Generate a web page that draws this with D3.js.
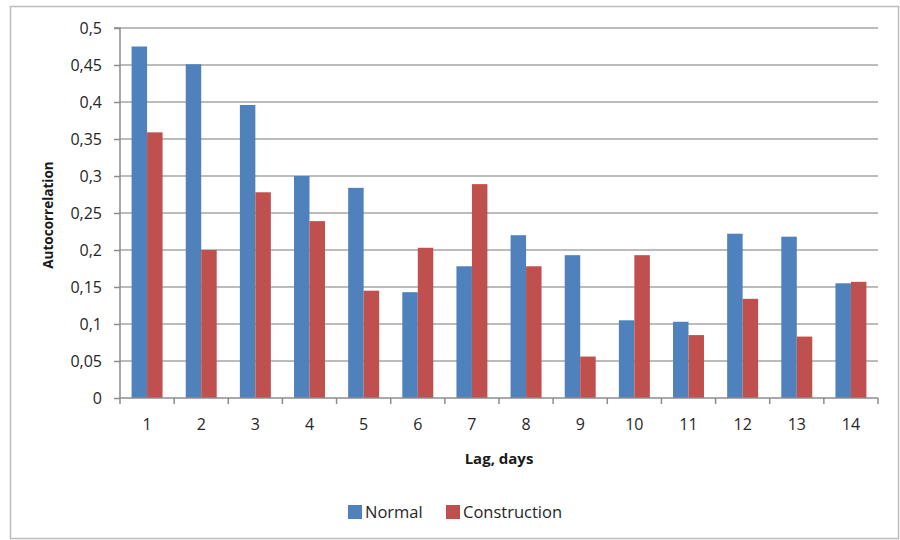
<!DOCTYPE html>
<html><head><meta charset="utf-8">
<script src="https://cdn.jsdelivr.net/npm/d3@7"></script>
<style>html,body{margin:0;padding:0;background:#fff;}svg{display:block;}</style>
</head><body>
<svg id="chart" width="900" height="540"></svg>
<script>
const lags = ["1","2","3","4","5","6","7","8","9","10","11","12","13","14"];
const normal = [0.475,0.451,0.396,0.300,0.284,0.143,0.178,0.220,0.193,0.105,0.103,0.222,0.218,0.155];
const construction = [0.359,0.200,0.278,0.239,0.145,0.203,0.289,0.178,0.056,0.193,0.085,0.134,0.083,0.157];
const seriesNames = ["Normal","Construction"];
const colors = ["#4F81BD","#C0504D"];
const yTicks = [0,0.05,0.1,0.15,0.2,0.25,0.3,0.35,0.4,0.45,0.5];
const yTickLabels = ["0","0,05","0,1","0,15","0,2","0,25","0,3","0,35","0,4","0,45","0,5"];

const svg = d3.select("#chart");
const font = "'Open Sans', Lato, sans-serif";
const L = 120, R = 878, T = 28, B = 398;

svg.append("rect").attr("x",10.5).attr("y",6.5).attr("width",888).attr("height",532)
  .attr("fill","#fff").attr("stroke","#bdbdbd").attr("stroke-width",1.5);

const x = d3.scaleBand().domain(lags).range([L,R]).paddingInner(0.428).paddingOuter(0.214);
const xs = d3.scaleBand().domain(seriesNames).range([0,x.bandwidth()]);
const y = d3.scaleLinear().domain([0,0.5]).range([B,T]);

// gridlines
svg.append("g").selectAll("line").data(yTicks.slice(1)).join("line")
  .attr("x1",L).attr("x2",R).attr("y1",d=>y(d)).attr("y2",d=>y(d))
  .attr("stroke","#a6a6a6").attr("stroke-width",1.5);

// bars
const data = lags.map((l,i)=>({lag:l, vals:[normal[i],construction[i]]}));
const g = svg.append("g").selectAll("g").data(data).join("g")
  .attr("transform",d=>`translate(${x(d.lag)},0)`);
g.selectAll("rect").data(d=>d.vals.map((v,j)=>({v,s:seriesNames[j],c:colors[j]}))).join("rect")
  .attr("x",d=>xs(d.s)).attr("width",xs.bandwidth())
  .attr("y",d=>y(d.v)).attr("height",d=>B-y(d.v)).attr("fill",d=>d.c);

// y axis
const yAxis = d3.axisLeft(y).tickValues(yTicks).tickFormat((d,i)=>yTickLabels[i]).tickSize(6).tickPadding(12);
const ya = svg.append("g").attr("transform",`translate(${L},0)`).call(yAxis);
ya.select(".domain").attr("stroke","#8c8c8c").attr("stroke-width",1.5).attr("d",`M-6,${T}H0V${B}`);
ya.selectAll(".tick line").attr("stroke","#8c8c8c").attr("stroke-width",1.5);
ya.selectAll("text").attr("font-family",font).attr("font-size",16).attr("fill","#262626");

// x axis
const xAxis = d3.axisBottom(x).tickSize(0).tickPadding(21);
const xa = svg.append("g").attr("transform",`translate(0,${B})`).call(xAxis);
xa.select(".domain").attr("stroke","#8c8c8c").attr("stroke-width",1.5).attr("d",`M${L},0H${R}`);
xa.selectAll("text").attr("font-family",font).attr("font-size",16).attr("fill","#262626");
// category boundary ticks
const bounds = d3.range(lags.length+1).map(i=> i<lags.length ? x(lags[i]) - x.step()*x.paddingOuter() : R);
svg.append("g").selectAll("line").data(bounds).join("line")
  .attr("x1",d=>d).attr("x2",d=>d).attr("y1",B).attr("y2",B+6)
  .attr("stroke","#8c8c8c").attr("stroke-width",1.5);

// axis titles
svg.append("text").attr("x",(L+R)/2).attr("y",464).attr("text-anchor","middle")
  .attr("font-family",font).attr("font-weight","bold").attr("font-size",15).attr("fill","#1a1a1a")
  .text("Lag, days");
svg.append("text").attr("transform","translate(53,215) rotate(-90)").attr("text-anchor","middle")
  .attr("font-family",font).attr("font-weight","bold").attr("font-size",13.5).attr("fill","#1a1a1a")
  .text("Autocorrelation");

// legend
const leg = svg.append("g");
const legItems = [{n:"Normal",c:colors[0],x:348},{n:"Construction",c:colors[1],x:446}];
legItems.forEach(it=>{
  leg.append("rect").attr("x",it.x).attr("y",505).attr("width",14).attr("height",14).attr("fill",it.c);
  leg.append("text").attr("x",it.x+17).attr("y",518).attr("font-family",font).attr("font-size",16.5)
    .attr("fill","#262626").text(it.n);
});
</script>
</body></html>
